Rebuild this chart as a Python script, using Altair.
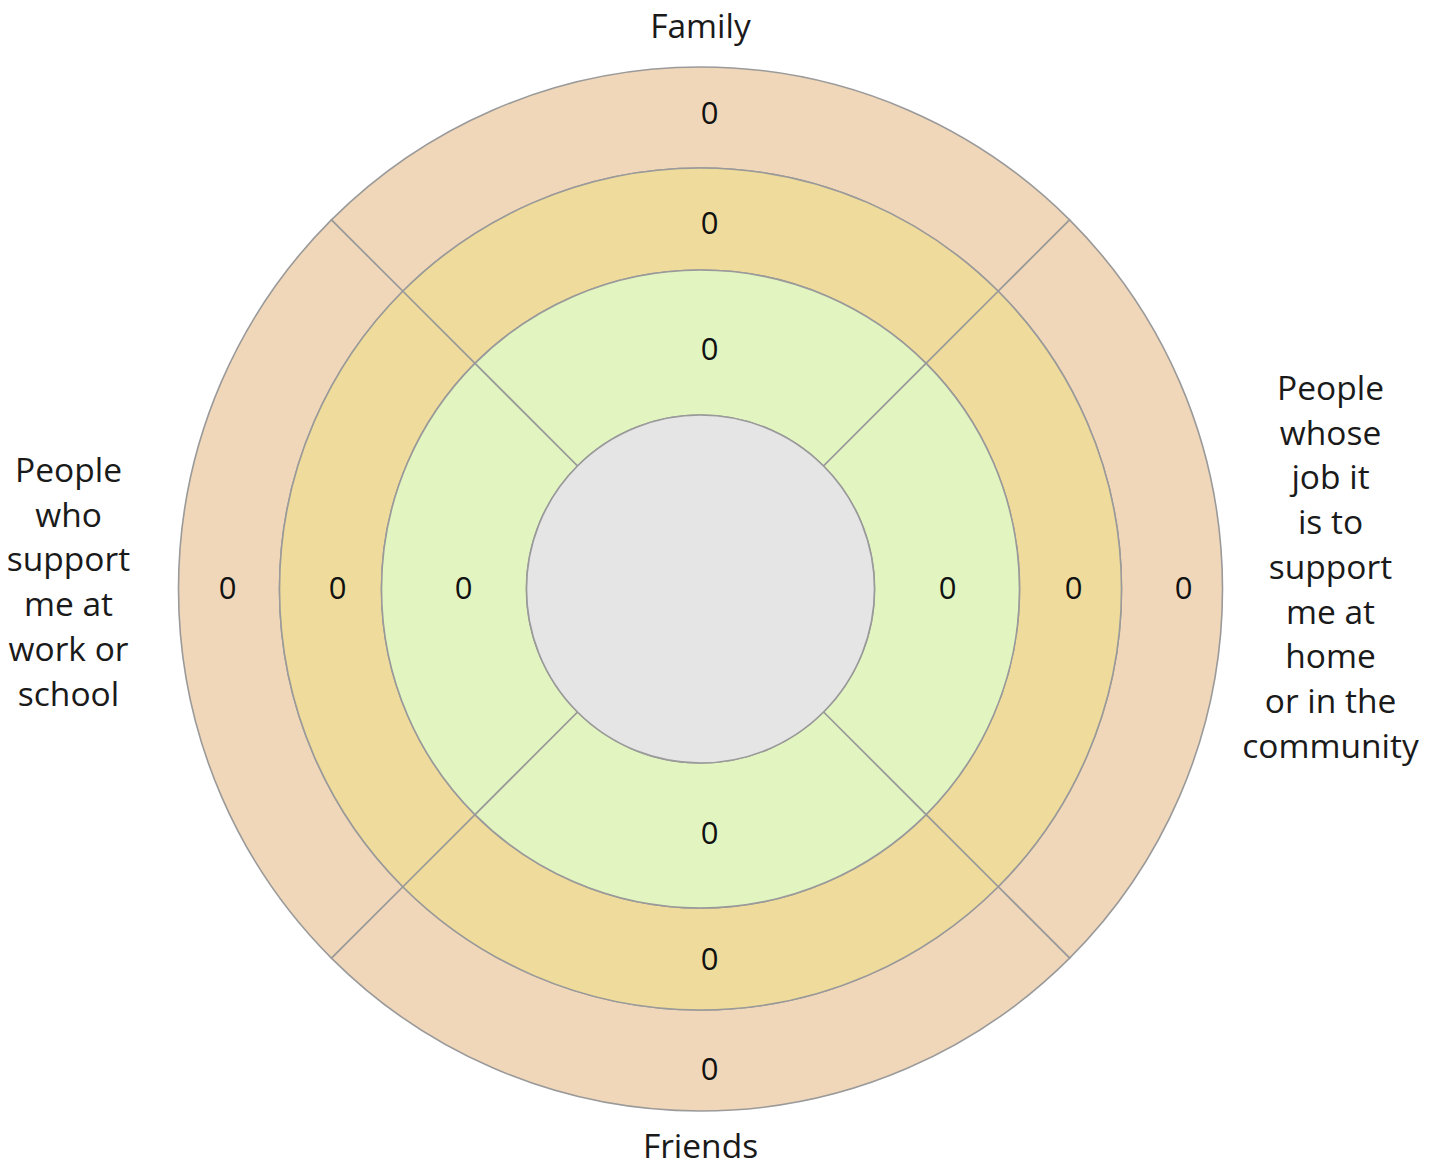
import math
import altair as alt
import pandas as pd

# ---- data ----
sectors = ["Family",
           "People\nwhose\njob it\nis to\nsupport\nme at\nhome\nor in the\ncommunity",
           "Friends",
           "People\nwho\nsupport\nme at\nwork or\nschool"]
rings = ["Outer", "Middle", "Inner"]
outer_counts = [0, 0, 0, 0]
middle_counts = [0, 0, 0, 0]
inner_counts = [0, 0, 0, 0]

# ---- layout / style ----
CX, CY = 692.5, 581          # centre of the circles in chart pixels
R_CENTER = 174
RING_EDGES = {"Outer": (421, 522), "Middle": (319, 421), "Inner": (174, 319)}
LABEL_R = {"Outer": 478, "Middle": 368, "Inner": 242}
RING_COLORS = {"Outer": "#F1D7B9", "Middle": "#EFDB9B", "Inner": "#E2F5C1"}
STROKE = "#9a9a9a"

counts = {"Outer": outer_counts, "Middle": middle_counts, "Inner": inner_counts}

arc_rows = []
text_rows = []
for ring in rings:
    r0, r1 = RING_EDGES[ring]
    for i, sec in enumerate(sectors):
        mid = i * math.pi / 2
        t0 = mid - math.pi / 4
        t1 = mid + math.pi / 4
        if t0 < 0:
            t0 += 2 * math.pi
            t1 += 2 * math.pi
        arc_rows.append(dict(ring=ring, sector=sec, t0=t0, t1=t1, r0=r0, r1=r1,
                             color=RING_COLORS[ring]))
        text_rows.append(dict(ring=ring, sector=sec, theta=mid, r=LABEL_R[ring],
                              value=str(counts[ring][i]), vertical=(i % 2 == 0)))
arc_rows.append(dict(ring="Center", sector="Me", t0=0.0, t1=2 * math.pi, r0=0, r1=R_CENTER,
                     color="#E5E5E5"))

arcs_df = pd.DataFrame(arc_rows)
text_df = pd.DataFrame(text_rows)

arcs = alt.Chart(arcs_df).mark_arc(stroke=STROKE, strokeWidth=1.6).encode(
    x=alt.value(CX), y=alt.value(CY),
    theta=alt.Theta("t0:Q", scale=None),
    theta2="t1",
    radius=alt.Radius("r1:Q", scale=None),
    radius2="r0",
    color=alt.Color("color:N", scale=None),
)

num_font = dict(font="Open Sans", fontSize=31, color="#111111", align="center", baseline="middle")
nums_v = alt.Chart(text_df[text_df.vertical]).mark_text(dx=9, dy=4, **num_font).encode(
    x=alt.value(CX), y=alt.value(CY),
    theta=alt.Theta("theta:Q", scale=None),
    radius=alt.Radius("r:Q", scale=None),
    text="value:N",
)
nums_h = alt.Chart(text_df[~text_df.vertical]).mark_text(dx=5, dy=1, **num_font).encode(
    x=alt.value(CX), y=alt.value(CY),
    theta=alt.Theta("theta:Q", scale=None),
    radius=alt.Radius("r:Q", scale=None),
    text="value:N",
)

lab_font = dict(font="Open Sans", fontSize=33.5, color="#1a1a1a", align="center",
                baseline="middle", lineBreak="\n", lineHeight=44.7)
LABEL_POS = [(0.0, 561, 0), (math.pi / 2, 630, -199), (math.pi, 559, 0), (3 * math.pi / 2, 632, -117)]
label_layers = []
for sec, (th, r, dy) in zip(sectors, LABEL_POS):
    df = pd.DataFrame([dict(label=sec, theta=th, r=r)])
    label_layers.append(
        alt.Chart(df).mark_text(dy=dy, **lab_font).encode(
            x=alt.value(CX), y=alt.value(CY),
            theta=alt.Theta("theta:Q", scale=None),
            radius=alt.Radius("r:Q", scale=None),
            text="label:N",
        )
    )

chart = alt.layer(arcs, nums_v, nums_h, *label_layers).properties(
    width=1420, height=1150, padding=0, autosize=alt.AutoSizeParams(type="none")
).configure_view(stroke=None)

chart.save("out.html", embed_options={"renderer": "svg", "actions": False})
